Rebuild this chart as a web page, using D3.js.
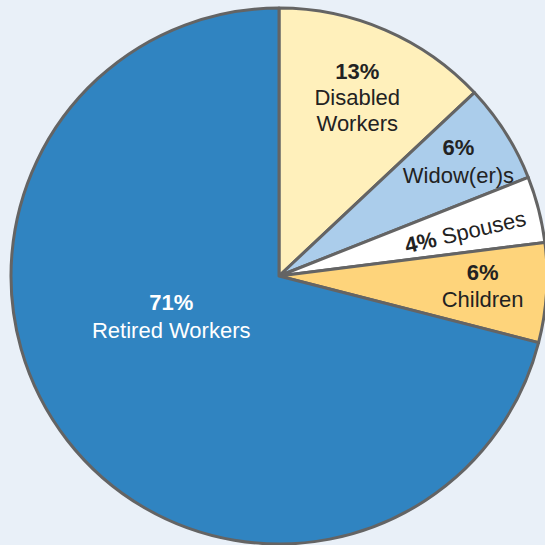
<!DOCTYPE html>
<html lang="en">
<head>
<meta charset="utf-8" />
<title>Beneficiaries</title>
<style>
    body { margin: 0; background: #e9f0f8; }
    .label text { font: 22px "Liberation Sans", Arial, sans-serif; fill: #222; }
    .label .pct { font-weight: bold; }
</style>
</head>
<body>
<div id="graph"></div>
<script src="https://d3js.org/d3.v7.min.js"></script>
<script>
    var categories = ["Disabled Workers", "Widow(er)s", "Spouses", "Children", "Retired Workers"];
    var values = [13, 6, 4, 6, 71];
    var pctLabels = ["13%", "6%", "4%", "6%", "71%"];
    var nameLines = [["Disabled", "Workers"], ["Widow(er)s"], ["Spouses"], ["Children"], ["Retired Workers"]];
    var colors = ["#fff0bb", "#abcdeb", "#ffffff", "#fed47b", "#3084c1"];

    var width = 545, height = 545,
        cx = 279, cy = 276, radius = 268;

    var data = categories.map(function (c, i) { return { name: c, value: values[i], i: i }; });

    var svg = d3.select("#graph").append("svg")
        .attr("width", width)
        .attr("height", height);

    svg.append("rect").attr("width", width).attr("height", height).attr("fill", "#e9f0f8");

    var g = svg.append("g").attr("transform", "translate(" + cx + "," + cy + ")");

    var pie = d3.pie().sort(null).value(function (d) { return d.value; });
    var arc = d3.arc().innerRadius(0).outerRadius(radius);

    var arcs = pie(data);

    g.selectAll("path")
        .data(arcs)
        .enter()
        .append("path")
        .attr("d", arc)
        .attr("fill", function (d) { return colors[d.data.i]; })
        .attr("stroke", "#646464")
        .attr("stroke-width", 3)
        .attr("stroke-linejoin", "round");

    // label placement: radius from centre along the slice's mid angle, plus a nudge
    var labelR = [187, 209, 192, 204, 114];
    var nudge = [[4, -25], [3, -9], [2, 11], [0, -9], [-1, -6]];
    var lineGap = [26, 28, 0, 27, 28];

    arcs.forEach(function (a) {
        var i = a.data.i;
        var mid = (a.startAngle + a.endAngle) / 2;
        if (i === 4) mid = 249.5 * Math.PI / 180;
        var x = labelR[i] * Math.sin(mid) + nudge[i][0];
        var y = -labelR[i] * Math.cos(mid) + nudge[i][1];
        var lab = g.append("g").attr("class", "label")
            .attr("transform", "translate(" + x + "," + y + ")");
        var fill = i === 4 ? "#fff" : "#222";

        if (i === 2) {
            // spouses label is one rotated line
            var t = lab.append("text")
                .attr("transform", "rotate(-13)")
                .attr("text-anchor", "middle")
                .style("fill", fill);
            t.append("tspan").attr("class", "pct").text(pctLabels[i]);
            t.append("tspan").text(" " + nameLines[i][0]);
            return;
        }

        lab.append("text")
            .attr("class", "pct")
            .attr("text-anchor", "middle")
            .style("fill", fill)
            .text(pctLabels[i]);
        nameLines[i].forEach(function (line, k) {
            lab.append("text")
                .attr("text-anchor", "middle")
                .attr("y", lineGap[i] * (k + 1))
                .style("fill", fill)
                .text(line);
        });
    });
</script>
</body>
</html>
